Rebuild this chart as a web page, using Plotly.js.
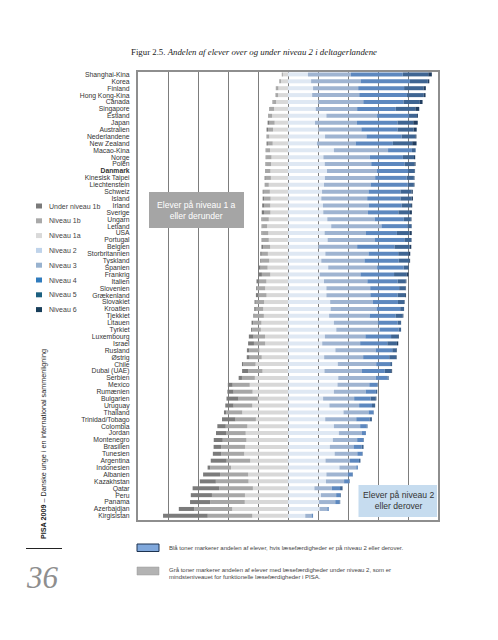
<!DOCTYPE html>
<html>
<head>
<meta charset="utf-8">
<script src="https://cdn.plot.ly/plotly-3.0.1.min.js"></script>
<style>
  html, body { margin: 0; padding: 0; background: #fff; }
  #chart { width: 498px; height: 640px; }
</style>
</head>
<body>
<div id="chart"></div>
<script>
// ---- Data (PISA 2009 reading, % of students per proficiency level) ----
const countries = ['Shanghai-Kina','Korea','Finland','Hong Kong-Kina','Canada','Singapore','Estland','Japan','Australien','Nederlandene','New Zealand','Macao-Kina','Norge','Polen','Danmark','Kinesisk Taipei','Liechtenstein','Schweiz','Island','Irland','Sverige','Ungarn','Letland','USA','Portugal','Belgien','Storbritannien','Tyskland','Spanien','Frankrig','Italien','Slovenien','Grækenland','Slovakiet','Kroatien','Tjekkiet','Litauen','Tyrkiet','Luxembourg','Israel','Rusland','Østrig','Chile','Dubai (UAE)','Serbien','Mexico','Rumænien','Bulgarien','Uruguay','Thailand','Trinidad/Tobago','Colombia','Jordan','Montenegro','Brasilien','Tunesien','Argentina','Indonesien','Albanien','Kazakhstan','Qatar','Peru','Panama','Azerbajdjan','Kirgisistan'];
const highlighted = 'Danmark';

const below1b = [0.1,0.2,0.2,0.2,0.4,0.4,0.3,1.3,1.0,0.1, 0.9,0.3,0.5,0.6,0.4,0.7,0.0,0.7,1.1,1.5, 1.5,0.5,0.4,0.6,0.6,1.1,1.0,0.8,1.2,2.3, 1.4,0.8,1.5,0.8,1.0,0.8,1.1,0.8,3.1,3.9, 1.6,1.9,1.0,4.2,2.2,3.2,4.1,8.0,5.5,1.6, 9.0,5.6,6.7,6.0,5.0,5.7,10.6,1.8,11.3,10.7, 17.8,14.1,13.4,10.3,29.8];
const level1b = [0.6,0.9,1.5,1.5,2.0,2.7,2.4,3.4,3.3,1.8, 3.2,2.6,3.4,3.1,3.1,3.5,2.8,4.1,4.2,3.9, 4.3,4.4,3.3,4.0,4.2,4.7,4.1,5.2,4.7,5.6, 5.2,5.2,5.6,5.6,5.0,6.2,5.5,5.7,7.7,7.5, 6.8,8.1,8.1,9.4,8.6,11.4,12.7,12.9,12.5,10.6, 13.6,14.4,13.1,15.8,16.0,15.2,15.7,13.8,18.7,21.8, 22.4,22.0,23.1,25.3,29.7];
const level1a = [3.4,4.7,6.4,6.6,7.9,9.3,10.6,8.9,10.0,12.5, 10.2,12.0,11.0,11.3,11.7,11.4,12.8,12.1,11.6,11.8, 11.7,12.8,13.9,13.1,12.8,11.9,13.4,12.5,13.6,11.8, 14.4,15.2,14.3,15.9,16.5,16.1,17.7,18.1,15.3,15.2, 19.0,17.5,21.6,17.0,22.1,25.5,23.6,20.1,23.8,30.5, 21.4,27.1,28.2,27.7,28.6,29.2,25.2,38.0,26.6,26.3, 23.4,28.7,28.8,37.2,23.8];
const level2 = [13.3,15.4,16.7,16.1,20.2,18.5,25.6,18.0,20.4,24.7, 19.3,30.6,23.6,24.5,26.0,24.6,24.0,22.7,22.2,23.3, 23.5,26.2,28.8,24.4,26.4,20.3,24.9,22.2,26.8,21.1, 24.0,25.6,25.6,28.1,28.4,27.4,30.6,32.2,24.6,22.8, 31.6,24.1,33.2,24.3,33.5,33.0,30.6,23.4,27.6,37.0, 24.8,30.6,33.9,29.9,27.9,31.1,25.0,34.3,25.6,25.3, 17.6,22.0,20.7,21.0,11.5];
const level3 = [28.5,33.0,30.1,31.4,30.0,27.6,33.8,28.0,28.5,27.6, 25.8,36.1,30.9,31.0,33.1,33.5,31.1,31.0,30.6,30.6, 29.8,31.6,33.5,27.6,31.6,25.8,28.8,28.8,32.6,27.2, 28.9,29.2,29.3,28.5,30.6,27.0,29.5,29.1,27.0,25.3, 26.8,26.0,25.6,25.0,25.0,21.2,21.2,20.7,19.8,16.7, 20.7,17.5,15.4,16.2,15.8,15.1,16.3,11.2,14.3,12.1, 11.6,10.1,10.8,5.2,4.2];
const level4 = [34.7,32.9,30.6,31.8,26.8,25.7,21.2,27.0,24.1,23.5, 24.8,15.9,22.1,22.3,20.9,21.0,24.6,21.3,22.2,21.9, 20.3,19.4,17.2,20.6,19.6,24.9,19.8,22.8,17.7,22.4, 20.2,19.3,18.2,16.7,15.8,17.4,13.0,12.4,17.1,18.1, 11.1,17.4,9.3,15.2,7.8,5.3,6.8,11.0,8.6,3.2, 8.8,4.4,2.6,4.0,5.4,3.3,6.0,1.1,3.2,3.3, 5.5,2.6,2.9,1.0,0.9];
const level5 = [17.0,11.9,12.9,11.2,10.9,13.1,5.4,10.5,10.7,9.1, 12.9,2.5,7.4,6.5,4.4,4.8,4.2,7.4,7.3,6.3, 7.7,4.7,2.9,8.4,4.6,10.1,7.0,7.0,3.2,8.5, 5.4,4.3,5.0,4.2,2.6,4.7,2.2,1.7,4.7,6.4, 2.7,4.5,1.3,4.4,0.8,0.4,0.9,3.4,2.0,0.3, 1.6,0.5,0.1,0.4,1.2,0.3,1.0,0.0,0.2,0.4, 1.5,0.5,0.4,0.0,0.1];
const level6 = [2.4,1.0,1.6,1.2,1.8,2.6,0.6,3.0,2.1,0.7, 2.9,0.0,0.8,0.7,0.3,0.4,0.4,0.8,1.0,0.7, 1.3,0.4,0.1,1.5,0.2,1.1,1.0,0.6,0.2,1.1, 0.4,0.3,0.6,0.3,0.0,0.4,0.1,0.0,0.5,0.9, 0.4,0.4,0.0,0.5,0.0,0.0,0.0,0.4,0.1,0.0, 0.1,0.0,0.0,0.0,0.1,0.0,0.0,0.0,0.0,0.0, 0.2,0.0,0.0,0.0,0.0];

const legendLabels = ['Under niveau 1b','Niveau 1b','Niveau 1a','Niveau 2','Niveau 3','Niveau 4','Niveau 5','Niveau 6'];

const titleMain = 'Figur 2.5.';
const titleItalic = 'Andelen af elever over og under niveau 2 i deltagerlandene';
const boxBelowText = ['Elever på niveau 1 a', 'eller derunder'];
const boxAboveText = ['Elever på niveau 2', 'eller derover'];
const noteBlue = 'Blå toner markerer andelen af elever, hvis læsefærdigheder er på niveau 2 eller derover.';
const noteGray = ['Grå toner markerer andelen af elever med læsefærdigheder under niveau 2, som er', 'mindsteniveauet for funktionelle læsefærdigheder i PISA.'];
const sideBold = 'PISA 2009';
const sideRest = ' – Danske unge i en international sammenligning';
const pageNo = '36';

// ---- Styles ----
const barColors = ['#7b7b7b','#a7a7a7','#d8d8d8','#dfe8f3','#9fb4d1','#5d88bf','#3f6592','#223e60'];
const legendColors = ['#7a7a7a','#a9a9a9','#d9d9d9','#bfd3ea','#98b2cf','#2f7bbd','#1c6080','#183e5a'];
const SANS = 'Arial, "Liberation Sans", Helvetica, sans-serif';
const SERIF = '"Liberation Serif", "Times New Roman", serif';

// plot area in pixels
const W = 498, H = 640, L = 138, R = 438, T = 72, B = 520;
const px = x => (x - L) / (R - L);
const py = y => (B - y) / (B - T);

const neg = a => a.map(v => -v);
const series = [
  {name: legendLabels[2], x: neg(level1a), c: barColors[2]},
  {name: legendLabels[1], x: neg(level1b), c: barColors[1]},
  {name: legendLabels[0], x: neg(below1b), c: barColors[0]},
  {name: legendLabels[3], x: level2, c: barColors[3]},
  {name: legendLabels[4], x: level3, c: barColors[4]},
  {name: legendLabels[5], x: level4, c: barColors[5]},
  {name: legendLabels[6], x: level5, c: barColors[6]},
  {name: legendLabels[7], x: level6, c: barColors[7]},
];
const traces = series.map(s => ({
  type: 'bar', orientation: 'h', name: s.name,
  y: countries, x: s.x,
  marker: {color: s.c, line: {width: 0}},
  showlegend: false,
  hovertemplate: '%{y}: %{x}%<extra>' + s.name + '</extra>'
}));

const shapes = [];
const annotations = [];

// boxes inside the plot
shapes.push({type: 'rect', layer: 'above', xref: 'paper', yref: 'paper',
  x0: px(149), x1: px(244), y0: py(228), y1: py(192),
  fillcolor: '#a5a5a5', line: {width: 0}});
annotations.push({xref: 'paper', yref: 'paper', x: px(196.5), y: py(210), xanchor: 'center', yanchor: 'middle',
  text: boxBelowText.join('<br>'), showarrow: false, align: 'center',
  font: {family: SANS, size: 8.6, color: '#ffffff'}});

shapes.push({type: 'rect', layer: 'above', xref: 'paper', yref: 'paper',
  x0: px(358.5), x1: px(437), y0: py(517), y1: py(485),
  fillcolor: '#c6dcef', line: {width: 0}});
annotations.push({xref: 'paper', yref: 'paper', x: px(398), y: py(500.5), xanchor: 'center', yanchor: 'middle',
  text: boxAboveText.join('<br>'), showarrow: false, align: 'center',
  font: {family: SANS, size: 8.6, color: '#333333'}});

// manual legend
legendLabels.forEach((lab, i) => {
  const yc = 206 + i * 14.8;
  shapes.push({type: 'rect', xref: 'paper', yref: 'paper',
    x0: px(36), x1: px(42), y0: py(yc + 2.5), y1: py(yc - 2.5),
    fillcolor: legendColors[i], line: {width: 0}});
  annotations.push({xref: 'paper', yref: 'paper', x: px(47), y: py(yc), xanchor: 'left', yanchor: 'middle',
    text: lab, showarrow: false, font: {family: SANS, size: 7, color: '#444444'}});
});

// bottom notes
shapes.push({type: 'rect', xref: 'paper', yref: 'paper',
  x0: px(137), x1: px(159), y0: py(551.5), y1: py(544),
  fillcolor: '#80a8dc', line: {color: '#1d3350', width: 1}});
annotations.push({xref: 'paper', yref: 'paper', x: px(166.5), y: py(547.5), xanchor: 'left', yanchor: 'middle',
  text: noteBlue, showarrow: false, font: {family: SANS, size: 6, color: '#444444'}});
shapes.push({type: 'rect', xref: 'paper', yref: 'paper',
  x0: px(137), x1: px(159), y0: py(575), y1: py(567),
  fillcolor: '#b3b3b3', line: {color: '#9a9a9a', width: 0.5}});
annotations.push({xref: 'paper', yref: 'paper', x: px(166.5), y: py(570), xanchor: 'left', yanchor: 'middle',
  text: noteGray[0], showarrow: false, font: {family: SANS, size: 6, color: '#444444'}});
annotations.push({xref: 'paper', yref: 'paper', x: px(166.5), y: py(577), xanchor: 'left', yanchor: 'middle',
  text: noteGray[1], showarrow: false, font: {family: SANS, size: 6, color: '#444444'}});

// side text, rule and page number
annotations.push({xref: 'paper', yref: 'paper', x: px(43), y: py(541), xanchor: 'center', yanchor: 'bottom',
  textangle: -90, text: '<b>' + sideBold + '</b>' + sideRest, showarrow: false,
  font: {family: SANS, size: 7.2, color: '#222222'}});
shapes.push({type: 'line', xref: 'paper', yref: 'paper',
  x0: px(26), x1: px(62), y0: py(548.5), y1: py(548.5), line: {color: '#222222', width: 1}});
annotations.push({xref: 'paper', yref: 'paper', x: px(24), y: py(577), xanchor: 'left', yanchor: 'middle',
  text: '<i>' + pageNo + '</i>', showarrow: false,
  font: {family: SERIF, size: 31, color: '#8e8e8e'}});

const tickText = countries.map(c => c === highlighted ? '<b>' + c + '</b>' : c);

const layout = {
  width: W, height: H,
  margin: {l: L, r: W - R, t: T, b: H - B, pad: 0},
  paper_bgcolor: '#ffffff', plot_bgcolor: '#ffffff',
  barmode: 'relative', bargap: 0.42,
  showlegend: false,
  title: {
    text: titleMain + ' <i>' + titleItalic + '</i>',
    x: 131 / W, xanchor: 'left', xref: 'container',
    y: 1 - 51.5 / H, yanchor: 'middle', yref: 'container',
    font: {family: SERIF, size: 8.8, color: '#222222'}
  },
  xaxis: {
    range: [-100, 100], tick0: 0, dtick: 20,
    showgrid: true, gridcolor: '#7d7d7d', gridwidth: 1,
    zeroline: false, showticklabels: false, ticks: '',
    showline: true, mirror: true, linecolor: '#8e8e8e', linewidth: 2,
    fixedrange: true
  },
  yaxis: {
    type: 'category', categoryorder: 'array', categoryarray: countries,
    range: [64.6, -0.35],
    tickmode: 'array', tickvals: countries, ticktext: tickText,
    showgrid: false, zeroline: false, ticks: '',
    ticklabelstandoff: 5,
    tickfont: {family: SANS, size: 6.8, color: '#333333'},
    showline: true, mirror: true, linecolor: '#8e8e8e', linewidth: 2,
    fixedrange: true
  },
  shapes: shapes,
  annotations: annotations
};

Plotly.newPlot('chart', traces, layout, {displayModeBar: false, staticPlot: true});
</script>
</body>
</html>
